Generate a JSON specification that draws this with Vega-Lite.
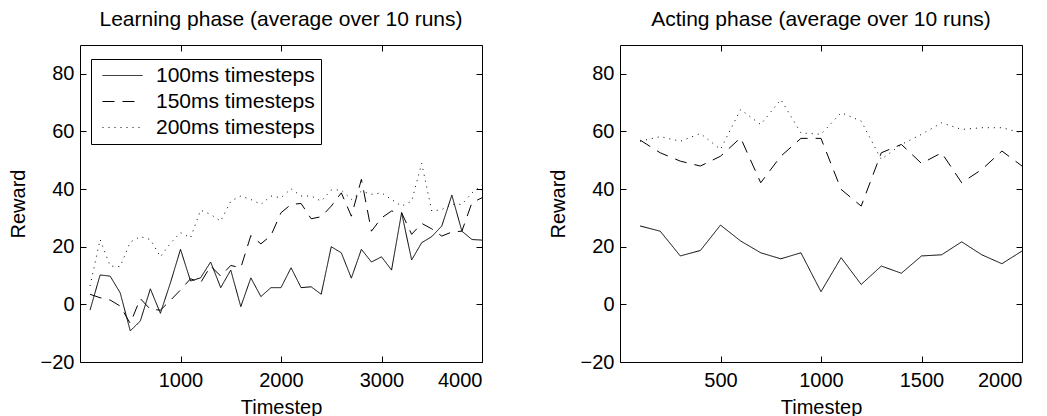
{
  "$schema": "https://vega.github.io/schema/vega-lite/v6.json",
  "background": "white",
  "padding": {"left": 7, "top": 8, "right": 5, "bottom": 5},
  "spacing": 138,
  "bounds": "flush",
  "datasets": {
    "learning": [
      {"t":100,"series":"100ms timesteps","reward":-2.0},{"t":200,"series":"100ms timesteps","reward":10.2},{"t":300,"series":"100ms timesteps","reward":9.8},{"t":400,"series":"100ms timesteps","reward":4.0},{"t":500,"series":"100ms timesteps","reward":-9.2},{"t":600,"series":"100ms timesteps","reward":-5.8},{"t":700,"series":"100ms timesteps","reward":5.4},{"t":800,"series":"100ms timesteps","reward":-3.1},{"t":900,"series":"100ms timesteps","reward":7.5},{"t":1000,"series":"100ms timesteps","reward":19.1},
      {"t":1100,"series":"100ms timesteps","reward":8.1},{"t":1200,"series":"100ms timesteps","reward":9.2},{"t":1300,"series":"100ms timesteps","reward":14.7},{"t":1400,"series":"100ms timesteps","reward":5.8},{"t":1500,"series":"100ms timesteps","reward":11.9},{"t":1600,"series":"100ms timesteps","reward":-0.8},{"t":1700,"series":"100ms timesteps","reward":9.2},{"t":1800,"series":"100ms timesteps","reward":2.7},{"t":1900,"series":"100ms timesteps","reward":5.8},{"t":2000,"series":"100ms timesteps","reward":5.8},
      {"t":2100,"series":"100ms timesteps","reward":12.7},{"t":2200,"series":"100ms timesteps","reward":5.8},{"t":2300,"series":"100ms timesteps","reward":6.1},{"t":2400,"series":"100ms timesteps","reward":3.5},{"t":2500,"series":"100ms timesteps","reward":20.0},{"t":2600,"series":"100ms timesteps","reward":17.9},{"t":2700,"series":"100ms timesteps","reward":9.1},{"t":2800,"series":"100ms timesteps","reward":19.1},{"t":2900,"series":"100ms timesteps","reward":14.7},{"t":3000,"series":"100ms timesteps","reward":16.5},
      {"t":3100,"series":"100ms timesteps","reward":11.9},{"t":3200,"series":"100ms timesteps","reward":31.8},{"t":3300,"series":"100ms timesteps","reward":15.4},{"t":3400,"series":"100ms timesteps","reward":21.4},{"t":3500,"series":"100ms timesteps","reward":23.5},{"t":3600,"series":"100ms timesteps","reward":27.2},{"t":3700,"series":"100ms timesteps","reward":37.9},{"t":3800,"series":"100ms timesteps","reward":25.4},{"t":3900,"series":"100ms timesteps","reward":22.5},{"t":4000,"series":"100ms timesteps","reward":22.3},
      {"t":100,"series":"150ms timesteps","reward":3.5},{"t":200,"series":"150ms timesteps","reward":2.3},{"t":300,"series":"150ms timesteps","reward":1.5},{"t":400,"series":"150ms timesteps","reward":-0.6},{"t":500,"series":"150ms timesteps","reward":-6.6},{"t":600,"series":"150ms timesteps","reward":2.0},{"t":700,"series":"150ms timesteps","reward":-1.7},{"t":800,"series":"150ms timesteps","reward":-2.0},{"t":900,"series":"150ms timesteps","reward":1.4},{"t":1000,"series":"150ms timesteps","reward":5.0},
      {"t":1100,"series":"150ms timesteps","reward":8.9},{"t":1200,"series":"150ms timesteps","reward":7.5},{"t":1300,"series":"150ms timesteps","reward":13.3},{"t":1400,"series":"150ms timesteps","reward":9.8},{"t":1500,"series":"150ms timesteps","reward":13.5},{"t":1600,"series":"150ms timesteps","reward":12.7},{"t":1700,"series":"150ms timesteps","reward":23.9},{"t":1800,"series":"150ms timesteps","reward":21.0},{"t":1900,"series":"150ms timesteps","reward":23.9},{"t":2000,"series":"150ms timesteps","reward":31.8},
      {"t":2100,"series":"150ms timesteps","reward":34.7},{"t":2200,"series":"150ms timesteps","reward":35.0},{"t":2300,"series":"150ms timesteps","reward":29.7},{"t":2400,"series":"150ms timesteps","reward":30.4},{"t":2500,"series":"150ms timesteps","reward":34.1},{"t":2600,"series":"150ms timesteps","reward":38.7},{"t":2700,"series":"150ms timesteps","reward":30.6},{"t":2800,"series":"150ms timesteps","reward":43.4},{"t":2900,"series":"150ms timesteps","reward":25.4},{"t":3000,"series":"150ms timesteps","reward":30.0},
      {"t":3100,"series":"150ms timesteps","reward":32.4},{"t":3200,"series":"150ms timesteps","reward":31.8},{"t":3300,"series":"150ms timesteps","reward":24.3},{"t":3400,"series":"150ms timesteps","reward":28.1},{"t":3500,"series":"150ms timesteps","reward":26.2},{"t":3600,"series":"150ms timesteps","reward":23.7},{"t":3700,"series":"150ms timesteps","reward":25.1},{"t":3800,"series":"150ms timesteps","reward":25.4},{"t":3900,"series":"150ms timesteps","reward":35.3},{"t":4000,"series":"150ms timesteps","reward":37.0},
      {"t":100,"series":"200ms timesteps","reward":6.4},{"t":200,"series":"200ms timesteps","reward":22.5},{"t":300,"series":"200ms timesteps","reward":13.3},{"t":400,"series":"200ms timesteps","reward":13.1},{"t":500,"series":"200ms timesteps","reward":21.6},{"t":600,"series":"200ms timesteps","reward":23.5},{"t":700,"series":"200ms timesteps","reward":22.5},{"t":800,"series":"200ms timesteps","reward":16.5},{"t":900,"series":"200ms timesteps","reward":21.2},{"t":1000,"series":"200ms timesteps","reward":24.9},
      {"t":1100,"series":"200ms timesteps","reward":23.1},{"t":1200,"series":"200ms timesteps","reward":32.7},{"t":1300,"series":"200ms timesteps","reward":31.2},{"t":1400,"series":"200ms timesteps","reward":28.9},{"t":1500,"series":"200ms timesteps","reward":35.8},{"t":1600,"series":"200ms timesteps","reward":37.6},{"t":1700,"series":"200ms timesteps","reward":36.4},{"t":1800,"series":"200ms timesteps","reward":34.7},{"t":1900,"series":"200ms timesteps","reward":37.6},{"t":2000,"series":"200ms timesteps","reward":37.0},
      {"t":2100,"series":"200ms timesteps","reward":40.1},{"t":2200,"series":"200ms timesteps","reward":37.6},{"t":2300,"series":"200ms timesteps","reward":37.6},{"t":2400,"series":"200ms timesteps","reward":35.8},{"t":2500,"series":"200ms timesteps","reward":39.7},{"t":2600,"series":"200ms timesteps","reward":39.7},{"t":2700,"series":"200ms timesteps","reward":36.4},{"t":2800,"series":"200ms timesteps","reward":39.3},{"t":2900,"series":"200ms timesteps","reward":38.2},{"t":3000,"series":"200ms timesteps","reward":38.7},
      {"t":3100,"series":"200ms timesteps","reward":36.4},{"t":3200,"series":"200ms timesteps","reward":34.1},{"t":3300,"series":"200ms timesteps","reward":35.8},{"t":3400,"series":"200ms timesteps","reward":48.9},{"t":3500,"series":"200ms timesteps","reward":32.4},{"t":3600,"series":"200ms timesteps","reward":32.9},{"t":3700,"series":"200ms timesteps","reward":34.7},{"t":3800,"series":"200ms timesteps","reward":34.7},{"t":3900,"series":"200ms timesteps","reward":38.7},{"t":4000,"series":"200ms timesteps","reward":41.3}
    ],
    "acting": [
      {"t":100,"series":"100ms timesteps","reward":27.2},{"t":200,"series":"100ms timesteps","reward":25.4},{"t":300,"series":"100ms timesteps","reward":16.8},{"t":400,"series":"100ms timesteps","reward":18.7},{"t":500,"series":"100ms timesteps","reward":27.5},{"t":600,"series":"100ms timesteps","reward":22.0},{"t":700,"series":"100ms timesteps","reward":17.9},{"t":800,"series":"100ms timesteps","reward":15.8},{"t":900,"series":"100ms timesteps","reward":17.9},{"t":1000,"series":"100ms timesteps","reward":4.4},
      {"t":1100,"series":"100ms timesteps","reward":16.2},{"t":1200,"series":"100ms timesteps","reward":6.9},{"t":1300,"series":"100ms timesteps","reward":13.3},{"t":1400,"series":"100ms timesteps","reward":10.8},{"t":1500,"series":"100ms timesteps","reward":16.8},{"t":1600,"series":"100ms timesteps","reward":17.2},{"t":1700,"series":"100ms timesteps","reward":21.7},{"t":1800,"series":"100ms timesteps","reward":17.2},{"t":1900,"series":"100ms timesteps","reward":14.1},{"t":2000,"series":"100ms timesteps","reward":18.5},
      {"t":100,"series":"150ms timesteps","reward":57.0},{"t":200,"series":"150ms timesteps","reward":52.6},{"t":300,"series":"150ms timesteps","reward":49.7},{"t":400,"series":"150ms timesteps","reward":48.0},{"t":500,"series":"150ms timesteps","reward":51.4},{"t":600,"series":"150ms timesteps","reward":57.8},{"t":700,"series":"150ms timesteps","reward":42.2},{"t":800,"series":"150ms timesteps","reward":51.4},{"t":900,"series":"150ms timesteps","reward":57.6},{"t":1000,"series":"150ms timesteps","reward":57.6},
      {"t":1100,"series":"150ms timesteps","reward":39.9},{"t":1200,"series":"150ms timesteps","reward":34.1},{"t":1300,"series":"150ms timesteps","reward":52.6},{"t":1400,"series":"150ms timesteps","reward":55.5},{"t":1500,"series":"150ms timesteps","reward":48.9},{"t":1600,"series":"150ms timesteps","reward":52.6},{"t":1700,"series":"150ms timesteps","reward":42.2},{"t":1800,"series":"150ms timesteps","reward":46.8},{"t":1900,"series":"150ms timesteps","reward":53.2},{"t":2000,"series":"150ms timesteps","reward":48.0},
      {"t":100,"series":"200ms timesteps","reward":56.6},{"t":200,"series":"200ms timesteps","reward":58.2},{"t":300,"series":"200ms timesteps","reward":56.6},{"t":400,"series":"200ms timesteps","reward":59.3},{"t":500,"series":"200ms timesteps","reward":53.8},{"t":600,"series":"200ms timesteps","reward":67.6},{"t":700,"series":"200ms timesteps","reward":62.4},{"t":800,"series":"200ms timesteps","reward":71.1},{"t":900,"series":"200ms timesteps","reward":59.5},{"t":1000,"series":"200ms timesteps","reward":59.0},
      {"t":1100,"series":"200ms timesteps","reward":66.5},{"t":1200,"series":"200ms timesteps","reward":63.6},{"t":1300,"series":"200ms timesteps","reward":50.3},{"t":1400,"series":"200ms timesteps","reward":55.5},{"t":1500,"series":"200ms timesteps","reward":59.0},{"t":1600,"series":"200ms timesteps","reward":63.0},{"t":1700,"series":"200ms timesteps","reward":60.7},{"t":1800,"series":"200ms timesteps","reward":61.3},{"t":1900,"series":"200ms timesteps","reward":61.3},{"t":2000,"series":"200ms timesteps","reward":59.5}
    ]
  },
  "hconcat": [
    {
      "width": 402,
      "height": 317,
      "title": {"text": "Learning phase (average over 10 runs)"},
      "data": {"name": "learning"},
      "resolve": {"axis": {"x": "independent", "y": "independent"}},
      "layer": [
        {
          "mark": {"type": "line", "color": "black", "strokeWidth": 1},
          "encoding": {
            "x": {"field": "t", "type": "quantitative", "title": "Timestep",
                  "scale": {"domain": [0, 4000], "nice": false},
                  "axis": {"values": [1000, 2000, 3000, 4000]}},
            "y": {"field": "reward", "type": "quantitative", "title": "Reward",
                  "scale": {"domain": [-20, 90], "nice": false},
                  "axis": {"values": [-20, 0, 20, 40, 60, 80]}},
            "strokeDash": {"field": "series", "type": "nominal",
                  "scale": {"domain": ["100ms timesteps", "150ms timesteps", "200ms timesteps"], "range": [[1, 0], [12, 8], [1, 5]]},
                  "legend": {"title": null, "orient": "none", "legendX": 11, "legendY": 14}}
          }
        },
        {
          "mark": {"type": "line", "color": "black", "strokeOpacity": 0},
          "encoding": {
            "detail": {"field": "series"},
            "x": {"field": "t", "type": "quantitative",
                  "axis": {"orient": "top", "values": [1000, 2000, 3000, 4000], "labels": false, "title": null}},
            "y": {"field": "reward", "type": "quantitative",
                  "axis": {"orient": "right", "values": [-20, 0, 20, 40, 60, 80], "labels": false, "title": null}}
          }
        }
      ]
    },
    {
      "width": 402,
      "height": 317,
      "title": {"text": "Acting phase (average over 10 runs)"},
      "data": {"name": "acting"},
      "resolve": {"axis": {"x": "independent", "y": "independent"}},
      "layer": [
        {
          "mark": {"type": "line", "color": "black", "strokeWidth": 1},
          "encoding": {
            "x": {"field": "t", "type": "quantitative", "title": "Timestep",
                  "scale": {"domain": [0, 2000], "nice": false},
                  "axis": {"values": [500, 1000, 1500, 2000]}},
            "y": {"field": "reward", "type": "quantitative", "title": "Reward",
                  "scale": {"domain": [-20, 90], "nice": false},
                  "axis": {"values": [-20, 0, 20, 40, 60, 80]}},
            "strokeDash": {"field": "series", "type": "nominal",
                  "scale": {"domain": ["100ms timesteps", "150ms timesteps", "200ms timesteps"], "range": [[1, 0], [12, 8], [1, 5]]},
                  "legend": null}
          }
        },
        {
          "mark": {"type": "line", "color": "black", "strokeOpacity": 0},
          "encoding": {
            "detail": {"field": "series"},
            "x": {"field": "t", "type": "quantitative",
                  "axis": {"orient": "top", "values": [500, 1000, 1500, 2000], "labels": false, "title": null}},
            "y": {"field": "reward", "type": "quantitative",
                  "axis": {"orient": "right", "values": [-20, 0, 20, 40, 60, 80], "labels": false, "title": null}}
          }
        }
      ]
    }
  ],
  "resolve": {"scale": {"x": "independent", "y": "independent", "strokeDash": "independent"}, "legend": {"strokeDash": "independent"}},
  "config": {
    "font": "Liberation Sans",
    "view": {"stroke": "black", "strokeWidth": 1},
    "title": {"fontSize": 21, "fontWeight": "normal", "color": "black", "font": "Liberation Sans", "offset": 15},
    "axis": {
      "domain": false, "grid": false,
      "labelFont": "Liberation Sans", "labelFontSize": 20, "labelColor": "black",
      "titleFont": "Liberation Sans", "titleFontSize": 20, "titleFontWeight": "normal", "titleColor": "black",
      "tickColor": "black", "tickSize": -6, "tickWidth": 1
    },
    "axisX": {"labelPadding": 14, "titlePadding": 7, "labelExpr": "replace(datum.label, ',', '')"},
    "axisY": {"labelPadding": 12, "titlePadding": 12, "labelExpr": "replace(datum.label, '-', '\u2212')"},
    "legend": {
      "strokeColor": "black", "fillColor": "white", "padding": 6,
      "labelFont": "Liberation Sans", "labelFontSize": 21, "labelColor": "black",
      "symbolType": "M-4,0H4", "symbolSize": 100, "symbolStrokeWidth": 1, "symbolStrokeColor": "black",
      "symbolOffset": 15, "rowPadding": 4, "labelOffset": 23
    }
  }
}
